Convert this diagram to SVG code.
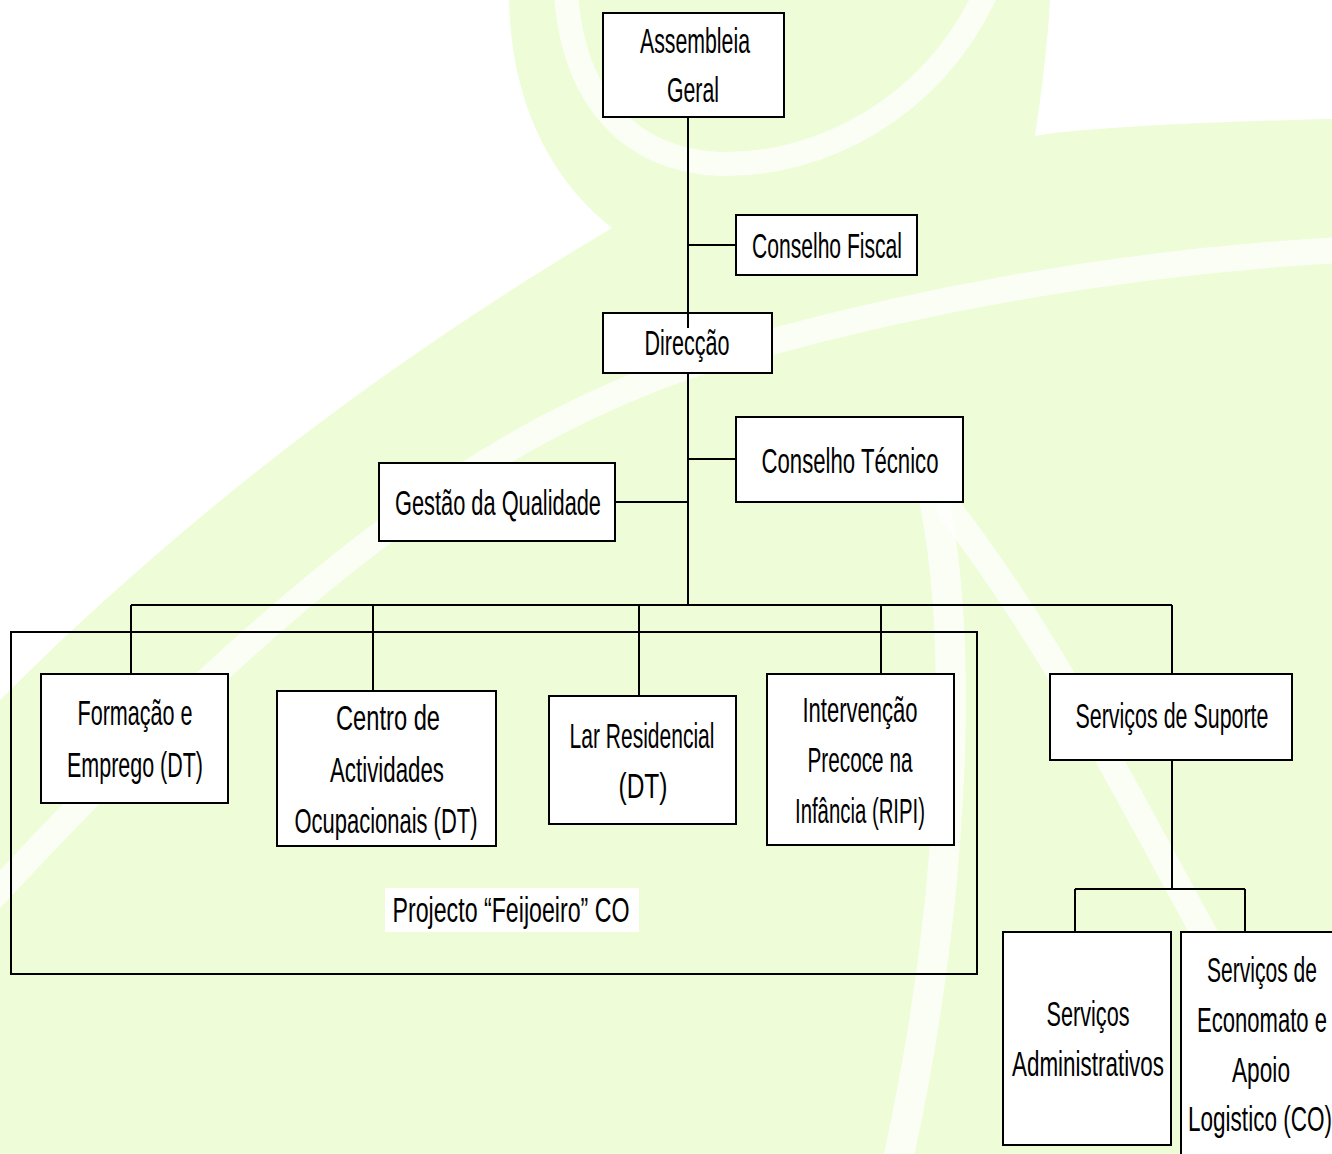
<svg xmlns="http://www.w3.org/2000/svg" width="1332" height="1154" viewBox="0 0 1332 1154">
<style>
.bx{fill:#ffffff;stroke:#000000;stroke-width:2}
.grp{fill:none;stroke:#000000;stroke-width:2}
.ln{fill:none;stroke:#000000;stroke-width:2}
.t{font-family:"Liberation Sans Narrow","Liberation Sans",Arial,sans-serif;font-size:35px;fill:#000000;text-anchor:middle}
.w{fill:#ffffff}
.ws{fill:none;stroke:#ffffff;stroke-linecap:round;opacity:0.75}
</style>
<g id="background">
<rect x="0" y="0" width="1332" height="1154" fill="#eefcd8"/>
<path class="w" d="M0,0 L509,0 C511,95 545,175 612,228 C440,330 220,480 0,700 Z"/>
<path class="w" d="M1050,0 L1332,0 L1332,119 C1200,122 1080,128 1035,136 C1042,90 1048,40 1050,0 Z"/>
<path class="ws" stroke-width="24" d="M566,-5 C574,100 630,160 720,164 C820,166 930,110 985,-5"/>
<path class="ws" stroke-width="26" d="M1340,250 C1120,262 900,302 700,362 C500,428 300,565 -10,900"/>
<path class="ws" stroke-width="30" d="M932,490 C965,640 955,900 898,1160"/>
<path class="ws" stroke-width="26" d="M950,510 C1050,640 1120,780 1205,935"/>
</g>
<g id="nodes">
<g id="assembleia">
<rect class="bx" x="603" y="13" width="181" height="104"/>
<text class="t" x="695" y="53" textLength="110" lengthAdjust="spacingAndGlyphs">Assembleia</text>
<text class="t" x="693" y="102" textLength="52" lengthAdjust="spacingAndGlyphs">Geral</text>
</g>
<g id="conselho-fiscal">
<rect class="bx" x="736" y="215" width="181" height="60"/>
<text class="t" x="827" y="258" textLength="150" lengthAdjust="spacingAndGlyphs">Conselho Fiscal</text>
</g>
<g id="direccao">
<rect class="bx" x="603" y="313" width="169" height="60"/>
<text class="t" x="687" y="355" textLength="85" lengthAdjust="spacingAndGlyphs">Direcção</text>
</g>
<g id="conselho-tecnico">
<rect class="bx" x="736" y="417" width="227" height="85"/>
<text class="t" x="850" y="473" textLength="177" lengthAdjust="spacingAndGlyphs">Conselho Técnico</text>
</g>
<g id="gestao-qualidade">
<rect class="bx" x="379" y="463" width="236" height="78"/>
<text class="t" x="498" y="515" textLength="206" lengthAdjust="spacingAndGlyphs">Gestão da Qualidade</text>
</g>
<g id="projecto-feijoeiro">
<rect class="grp" x="11" y="632" width="966" height="342"/>
<rect class="w" x="385" y="888" width="254" height="44"/>
<text class="t" x="511" y="922" textLength="237" lengthAdjust="spacingAndGlyphs">Projecto “Feijoeiro” CO</text>
</g>
<g id="formacao-emprego">
<rect class="bx" x="41" y="674" width="187" height="129"/>
<text class="t" x="135" y="725" textLength="115" lengthAdjust="spacingAndGlyphs">Formação e</text>
<text class="t" x="135" y="777" textLength="136" lengthAdjust="spacingAndGlyphs">Emprego (DT)</text>
</g>
<g id="centro-actividades">
<rect class="bx" x="277" y="691" width="219" height="155"/>
<text class="t" x="388" y="730" textLength="104" lengthAdjust="spacingAndGlyphs">Centro de</text>
<text class="t" x="387" y="782" textLength="114" lengthAdjust="spacingAndGlyphs">Actividades</text>
<text class="t" x="386" y="833" textLength="183" lengthAdjust="spacingAndGlyphs">Ocupacionais (DT)</text>
</g>
<g id="lar-residencial">
<rect class="bx" x="549" y="696" width="187" height="128"/>
<text class="t" x="642" y="748" textLength="145" lengthAdjust="spacingAndGlyphs">Lar Residencial</text>
<text class="t" x="643" y="798" textLength="49" lengthAdjust="spacingAndGlyphs">(DT)</text>
</g>
<g id="intervencao-precoce">
<rect class="bx" x="767" y="674" width="187" height="171"/>
<text class="t" x="860" y="722" textLength="115" lengthAdjust="spacingAndGlyphs">Intervenção</text>
<text class="t" x="860" y="772" textLength="105" lengthAdjust="spacingAndGlyphs">Precoce na</text>
<text class="t" x="860" y="823" textLength="130" lengthAdjust="spacingAndGlyphs">Infância (RIPI)</text>
</g>
<g id="servicos-suporte">
<rect class="bx" x="1050" y="674" width="242" height="86"/>
<text class="t" x="1172" y="728" textLength="193" lengthAdjust="spacingAndGlyphs">Serviços de Suporte</text>
</g>
<g id="servicos-administrativos">
<rect class="bx" x="1003" y="932" width="168" height="213"/>
<text class="t" x="1088" y="1026" textLength="83" lengthAdjust="spacingAndGlyphs">Serviços</text>
<text class="t" x="1088" y="1076" textLength="152" lengthAdjust="spacingAndGlyphs">Administrativos</text>
</g>
<g id="servicos-economato">
<rect class="bx" x="1181" y="932" width="170" height="240"/>
<text class="t" x="1262" y="982" textLength="110" lengthAdjust="spacingAndGlyphs">Serviços de</text>
<text class="t" x="1262" y="1032" textLength="130" lengthAdjust="spacingAndGlyphs">Economato e</text>
<text class="t" x="1261" y="1082" textLength="58" lengthAdjust="spacingAndGlyphs">Apoio</text>
<text class="t" x="1260" y="1131" textLength="144" lengthAdjust="spacingAndGlyphs">Logistico (CO)</text>
</g>
</g>
<g id="connectors">
<path class="ln" d="M688,117 V313"/>
<path class="ln" d="M688,313 V328"/>
<path class="ln" d="M688,373 V605"/>
<path class="ln" d="M688,245 H736"/>
<path class="ln" d="M688,459 H736"/>
<path class="ln" d="M615,502 H688"/>
<path class="ln" d="M131,605 H1172"/>
<path class="ln" d="M131,605 V674"/>
<path class="ln" d="M373,605 V691"/>
<path class="ln" d="M639,605 V696"/>
<path class="ln" d="M881,605 V674"/>
<path class="ln" d="M1172,605 V674"/>
<path class="ln" d="M1172,760 V889"/>
<path class="ln" d="M1075,889 H1245"/>
<path class="ln" d="M1075,889 V932"/>
<path class="ln" d="M1245,889 V932"/>
</g>
</svg>
